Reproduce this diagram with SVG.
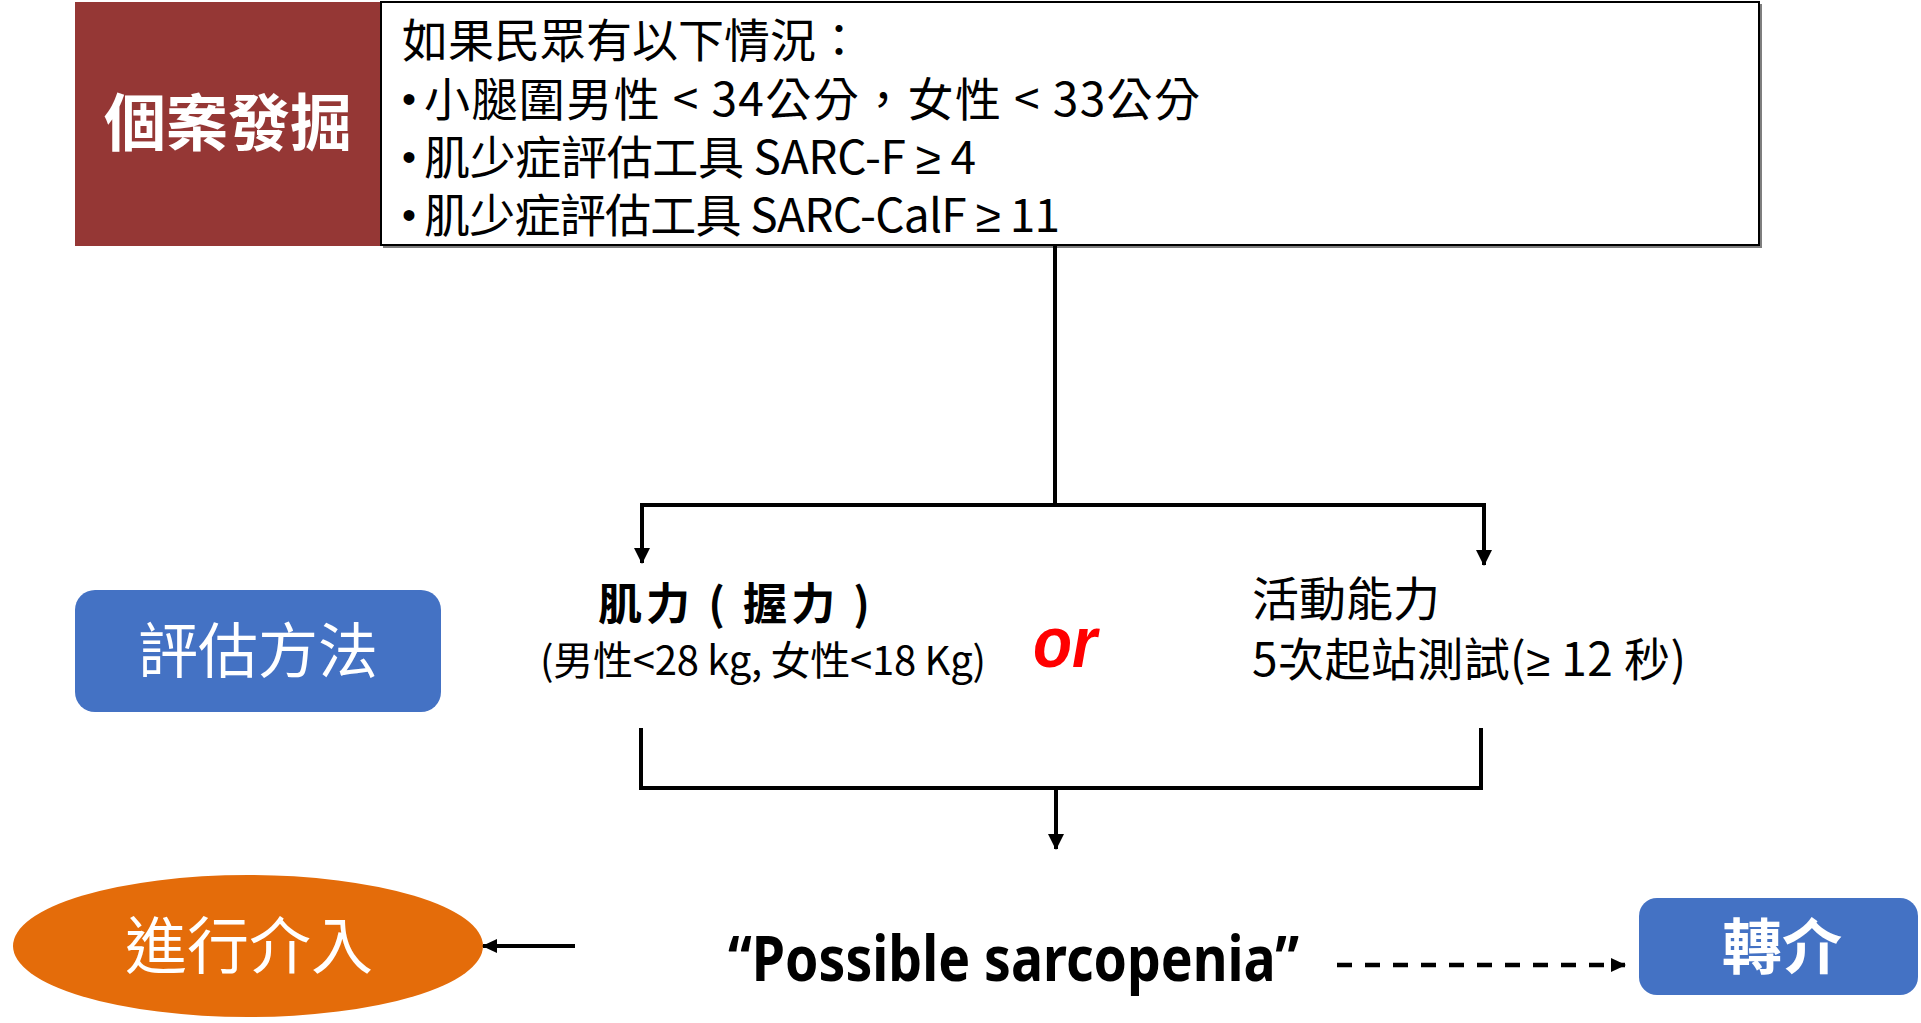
<svg xmlns="http://www.w3.org/2000/svg" width="1921" height="1023" viewBox="0 0 1921 1023">
  <style>
    .cjk { font-family: "Noto Sans CJK TC", "Noto Sans CJK SC", sans-serif; }
    .lat { font-family: "Liberation Sans", Arial, sans-serif; }
    .white { fill: #ffffff; }
    .blk { fill: #000000; }
    .conn { stroke: #000; stroke-width: 4; fill: none; }
  </style>
  <defs>
    <marker id="arrow" markerUnits="userSpaceOnUse" markerWidth="16" markerHeight="16" viewBox="0 0 16 16" refX="15" refY="8" orient="auto">
      <path d="M0,0 L16,8 L0,16 Z" fill="#000"/>
    </marker>
    <marker id="arrowS" markerUnits="userSpaceOnUse" markerWidth="15" markerHeight="14" viewBox="0 0 15 14" refX="14" refY="7" orient="auto">
      <path d="M0,0 L15,7 L0,14 Z" fill="#000"/>
    </marker>
  </defs>
  <rect width="1921" height="1023" fill="#ffffff"/>

  <g id="case-finding">
    <rect x="75" y="2" width="306" height="244" fill="#953735"/>
    <text x="228" y="146" text-anchor="middle" font-size="62" font-weight="bold" class="cjk white">個案發掘</text>
  </g>

  <g id="criteria">
    <rect x="383" y="4" width="1379" height="244" fill="#7f7f7f"/>
    <rect x="381" y="2" width="1378" height="243" fill="#ffffff" stroke="#000" stroke-width="2"/>
    <text x="402" y="57" font-size="46" class="cjk blk">如果民眾有以下情況：</text>
    <text x="402" y="113" font-size="40" class="lat blk">•</text>
    <text x="424" y="116" font-size="46" class="cjk blk" textLength="776" lengthAdjust="spacing">小腿圍男性 &lt; 34公分，女性 &lt;  33公分</text>
    <text x="402" y="171" font-size="40" class="lat blk">•</text>
    <text x="424" y="174" font-size="46" class="cjk blk" textLength="552" lengthAdjust="spacing">肌少症評估工具 SARC-F <tspan class="lat" font-size="46">≥</tspan> 4</text>
    <text x="402" y="229" font-size="40" class="lat blk">•</text>
    <text x="424" y="232" font-size="46" class="cjk blk" textLength="636" lengthAdjust="spacing">肌少症評估工具 SARC-CalF <tspan class="lat" font-size="46">≥</tspan> 11</text>
  </g>

  <g id="method">
    <rect x="75" y="590" width="366" height="122" rx="20" ry="20" fill="#4472C4"/>
    <text x="258" y="673" text-anchor="middle" font-size="60" class="cjk white">評估方法</text>
  </g>

  <g id="strength">
    <text x="598" y="620" font-size="44" font-weight="bold" class="cjk blk" textLength="272" lengthAdjust="spacing">肌力 ( 握力 )</text>
    <text x="540" y="675" font-size="40" class="cjk blk" textLength="446" lengthAdjust="spacing">(男性&lt;28 kg, 女性&lt;18 Kg)</text>
  </g>

  <g id="or-label">
    <text x="1033" y="667" font-size="72" font-weight="bold" font-style="italic" fill="#ff0000" class="lat" textLength="64" lengthAdjust="spacingAndGlyphs">or</text>
  </g>

  <g id="mobility">
    <text x="1252" y="616" font-size="47" class="cjk blk">活動能力</text>
    <text x="1252" y="676" font-size="46" class="cjk blk" textLength="434" lengthAdjust="spacing">5次起站測試(<tspan class="lat" font-size="44">≥</tspan> 12 秒)</text>
  </g>

  <g id="possible">
    <text x="728" y="981" font-size="62" font-weight="bold" class="blk" font-family="'Noto Sans', 'Open Sans', sans-serif" textLength="571" lengthAdjust="spacingAndGlyphs">“Possible sarcopenia”</text>
  </g>

  <g id="intervention">
    <ellipse cx="248" cy="946" rx="235" ry="71" fill="#E46C0A"/>
    <text x="249" y="969" text-anchor="middle" font-size="62" class="cjk white">進行介入</text>
  </g>

  <g id="referral">
    <rect x="1639" y="898" width="279" height="97" rx="18" ry="18" fill="#4472C4"/>
    <text x="1782" y="969" text-anchor="middle" font-size="60" font-weight="bold" class="cjk white">轉介</text>
  </g>

  <g id="connectors">
    <line x1="1055" y1="246" x2="1055" y2="505" class="conn"/>
    <line x1="640" y1="505" x2="1486" y2="505" class="conn"/>
    <line x1="642" y1="505" x2="642" y2="563" class="conn" marker-end="url(#arrow)"/>
    <line x1="1484" y1="505" x2="1484" y2="565" class="conn" marker-end="url(#arrow)"/>
    <polyline points="641,728 641,788 1481,788 1481,728" class="conn"/>
    <line x1="1056" y1="788" x2="1056" y2="849" class="conn" marker-end="url(#arrow)"/>
    <line x1="575" y1="946" x2="483" y2="946" class="conn" marker-end="url(#arrowS)"/>
    <line x1="1337" y1="965" x2="1625" y2="965" stroke="#000" stroke-width="4.5" stroke-dasharray="15,13" marker-end="url(#arrowS)"/>
  </g>
</svg>
